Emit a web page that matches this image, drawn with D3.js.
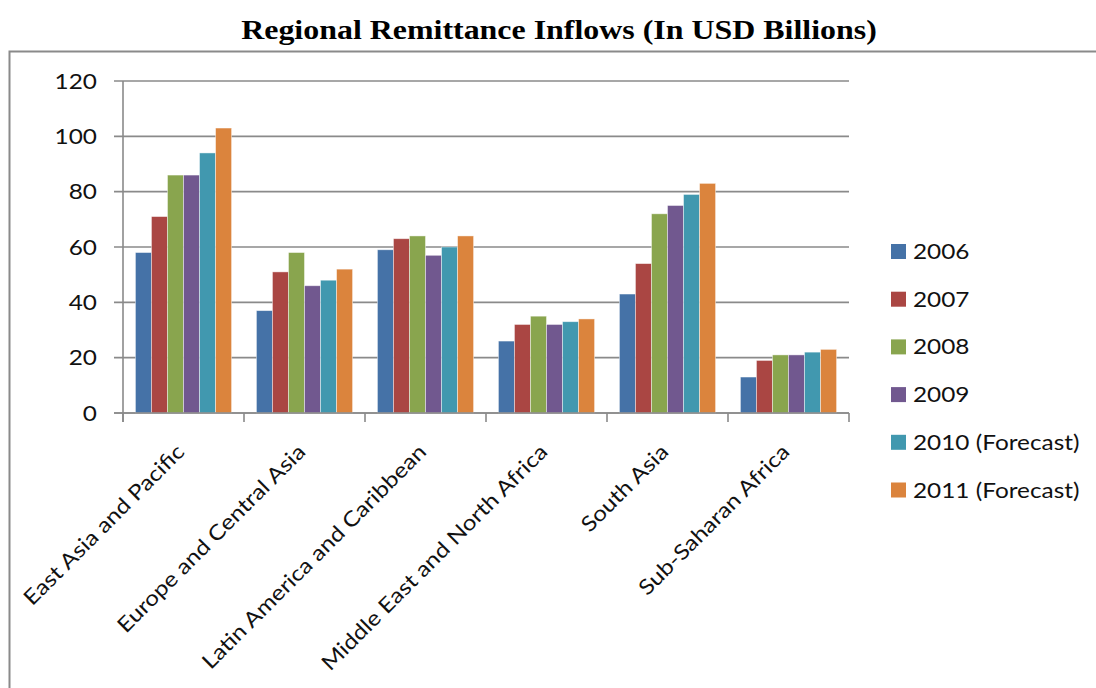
<!DOCTYPE html>
<html><head><meta charset="utf-8">
<script src="https://cdn.jsdelivr.net/npm/d3@7"></script>
<style>
html,body{margin:0;padding:0;background:#fff;}
svg{display:block;}
</style></head>
<body>
<svg id="chart" width="1096" height="688"></svg>
<script>
const categories = ["East Asia and Pacific","Europe and Central Asia","Latin America and Caribbean","Middle East and North Africa","South Asia","Sub-Saharan Africa"];
const seriesNames = ["2006","2007","2008","2009","2010 (Forecast)","2011 (Forecast)"];
const v2006 = [58,37,59,26,43,13];
const v2007 = [71,51,63,32,54,19];
const v2008 = [86,58,64,35,72,21];
const v2009 = [86,46,57,32,75,21];
const v2010 = [94,48,60,33,79,22];
const v2011 = [103,52,64,34,83,23];
const yTicks = [0,20,40,60,80,100,120];
const colors = ["#4572A7","#AA4643","#89A54E","#71588F","#4198AF","#DB843D"];
const series = [v2006,v2007,v2008,v2009,v2010,v2011];

const svg = d3.select("#chart");
const font = "Lato, 'Open Sans', sans-serif";
const SX = 1.16;
const L = 123, R = 849, T = 81, B = 413;

// frame
svg.append("path").attr("d", `M9.5,700 L9.5,51.5 L1100,51.5`).attr("fill","none").attr("stroke","#8a8a8a").attr("stroke-width",2);

// title
svg.append("text").attr("transform","translate(559,39) scale(1.14,1)").attr("text-anchor","middle")
  .attr("font-family","'Liberation Serif','Times New Roman',serif").attr("font-weight","bold").attr("font-size",28)
  .attr("fill","#000").text("Regional Remittance Inflows (In USD Billions)");

const y = d3.scaleLinear().domain([0,120]).range([B,T]);
const x0 = d3.scaleBand().domain(categories).range([L,R]).padding(0);
const gap = x0.bandwidth()*0.205;
const x1 = d3.scaleBand().domain(seriesNames).range([gap/2, x0.bandwidth()-gap/2]).padding(0);

// gridlines
svg.append("g").selectAll("line").data(yTicks).join("line")
  .attr("x1",L-9).attr("x2",R).attr("y1",d=>y(d)).attr("y2",d=>y(d))
  .attr("stroke","#8a8a8a").attr("stroke-width",1.6);

// y labels
svg.append("g").selectAll("text").data(yTicks).join("text")
  .attr("transform",d=>`translate(97,${y(d)}) scale(${SX},1)`).attr("dy","0.36em").attr("text-anchor","end")
  .attr("font-family",font).attr("font-size",21).attr("fill","#111").text(d=>d);

// bars
const g = svg.append("g");
categories.forEach((c,ci)=>{
  seriesNames.forEach((s,si)=>{
    g.append("rect")
      .attr("x", x0(c)+x1(s)).attr("width", x1.bandwidth())
      .attr("y", y(series[si][ci])).attr("height", B - y(series[si][ci]))
      .attr("fill", colors[si]).attr("stroke","rgba(255,255,255,0.55)").attr("stroke-width",0.8);
  });
});

// axes lines
svg.append("line").attr("x1",L).attr("x2",L).attr("y1",T).attr("y2",B+9).attr("stroke","#8a8a8a").attr("stroke-width",1.6);
svg.append("line").attr("x1",L-9).attr("x2",R).attr("y1",B).attr("y2",B).attr("stroke","#8a8a8a").attr("stroke-width",1.6);
// category ticks
const bounds = categories.map(c=>x0(c)).concat([R]);
svg.append("g").selectAll("line").data(bounds).join("line")
  .attr("x1",d=>d).attr("x2",d=>d).attr("y1",B).attr("y2",B+9)
  .attr("stroke","#8a8a8a").attr("stroke-width",1.6);

// x labels
svg.append("g").selectAll("text").data(categories).join("text")
  .attr("transform", d=>`translate(${x0(d)+x0.bandwidth()/2-3},${B+35}) rotate(-45) scale(${SX},1)`)
  .attr("text-anchor","end").attr("dy","0.35em")
  .attr("font-family",font).attr("font-size",21).attr("fill","#111").text(d=>d);

// legend
const lg = svg.append("g");
seriesNames.forEach((s,i)=>{
  const cy = 251.5 + i*47.7;
  lg.append("rect").attr("x",891).attr("y",cy-7.5).attr("width",15).attr("height",15).attr("fill",colors[i]);
  lg.append("text").attr("transform",`translate(913,${cy}) scale(${SX},1)`).attr("dy","0.36em")
    .attr("font-family",font).attr("font-size",21).attr("fill","#111").text(s);
});
</script>
</body></html>
